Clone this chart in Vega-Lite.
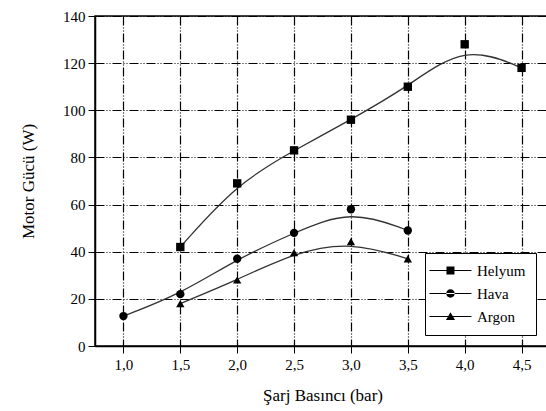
{
  "$schema": "https://vega.github.io/schema/vega-lite/v6.json",
  "width": 455,
  "height": 330,
  "autosize": "none",
  "padding": {"left": 95, "top": 16, "right": 0, "bottom": 65},
  "background": "white",
  "config": {
    "font": "Liberation Serif",
    "view": {"stroke": "black", "strokeWidth": 1.5},
    "axis": {
      "domainColor": "black",
      "domainWidth": 1.5,
      "tickColor": "black",
      "tickWidth": 1,
      "labelColor": "black",
      "labelFont": "Liberation Serif",
      "labelFontSize": 15,
      "labelOverlap": false,
      "labelFlush": false,
      "titleColor": "black",
      "titleFont": "Liberation Serif",
      "titleFontSize": 17,
      "titleFontWeight": "normal",
      "gridColor": "black",
      "gridWidth": 1.2
    }
  },
  "data": {
    "values": [
      {"seri": "Helyum", "basinc": 1.5, "guc": 42},
      {"seri": "Helyum", "basinc": 2.0, "guc": 69},
      {"seri": "Helyum", "basinc": 2.5, "guc": 83},
      {"seri": "Helyum", "basinc": 3.0, "guc": 96},
      {"seri": "Helyum", "basinc": 3.5, "guc": 110},
      {"seri": "Helyum", "basinc": 4.0, "guc": 128},
      {"seri": "Helyum", "basinc": 4.5, "guc": 118},
      {"seri": "Hava", "basinc": 1.0, "guc": 12.7},
      {"seri": "Hava", "basinc": 1.5, "guc": 22},
      {"seri": "Hava", "basinc": 2.0, "guc": 37},
      {"seri": "Hava", "basinc": 2.5, "guc": 48},
      {"seri": "Hava", "basinc": 3.0, "guc": 58},
      {"seri": "Hava", "basinc": 3.5, "guc": 49},
      {"seri": "Argon", "basinc": 1.5, "guc": 18},
      {"seri": "Argon", "basinc": 2.0, "guc": 28},
      {"seri": "Argon", "basinc": 2.5, "guc": 39.6},
      {"seri": "Argon", "basinc": 3.0, "guc": 44.3},
      {"seri": "Argon", "basinc": 3.5, "guc": 37}
    ]
  },
  "layer": [
    {
      "mark": {"type": "line", "interpolate": "basis", "color": "#333", "strokeWidth": 1.3},
      "encoding": {
        "x": {
          "field": "basinc",
          "type": "quantitative",
          "scale": {"domain": [0.75, 4.75], "nice": false, "zero": false},
          "axis": {
            "values": [1, 1.25, 1.5, 1.75, 2, 2.25, 2.5, 2.75, 3, 3.25, 3.5, 3.75, 4, 4.25, 4.5],
            "labelExpr": "(datum.value * 2) % 1 == 0 ? replace(format(datum.value, '.1f'), '.', ',') : ''",
            "tickSize": {"condition": {"test": "(datum.value * 2) % 1 != 0", "value": 4}, "value": 7},
            "gridOpacity": {"condition": {"test": "(datum.value * 2) % 1 != 0", "value": 0}, "value": 1},
            "gridDash": [9, 2, 1, 2, 1, 2],
            "grid": true,
            "labelPadding": 4,
            "title": "Şarj Basıncı (bar)",
            "titlePadding": 15
          }
        },
        "y": {
          "field": "guc",
          "type": "quantitative",
          "scale": {"domain": [0, 140], "nice": false},
          "axis": {
            "values": [0, 10, 20, 30, 40, 50, 60, 70, 80, 90, 100, 110, 120, 130, 140],
            "labelExpr": "datum.value % 20 == 0 ? format(datum.value, 'd') : ''",
            "tickSize": {"condition": {"test": "datum.value % 20 != 0", "value": 4}, "value": 7},
            "gridOpacity": {"condition": {"test": "datum.value % 20 != 0", "value": 0}, "value": 1},
            "gridDash": [9, 2, 1, 2, 1, 2],
            "grid": true,
            "labelPadding": 3,
            "title": "Motor Gücü (W)",
            "titlePadding": 25
          }
        },
        "detail": {"field": "seri", "type": "nominal"}
      }
    },
    {
      "mark": {"type": "point", "filled": true, "color": "black", "opacity": 1, "size": 70},
      "encoding": {
        "x": {"field": "basinc", "type": "quantitative"},
        "y": {"field": "guc", "type": "quantitative"},
        "shape": {
          "field": "seri",
          "type": "nominal",
          "scale": {"domain": ["Helyum", "Hava", "Argon"], "range": ["square", "circle", "triangle-up"]},
          "legend": null
        }
      }
    },
    {
      "transform": [{"filter": "false"}],
      "mark": {"type": "point", "filled": true, "color": "black", "opacity": 1},
      "encoding": {
        "shape": {
          "field": "seri",
          "type": "nominal",
          "scale": {
            "domain": ["Helyum", "Hava", "Argon"],
            "range": [
              "M-1.86,-0.08H4.14V0.08H-1.86Z M0.57,-0.57H1.71V0.57H0.57Z",
              "M-1.86,-0.08H4.14V0.08H-1.86Z M0.54,0A0.6,0.6 0 1,0 1.74,0A0.6,0.6 0 1,0 0.54,0Z",
              "M-1.86,-0.08H4.14V0.08H-1.86Z M0.49,0.5L1.14,-0.62L1.79,0.5Z"
            ]
          },
          "legend": {
            "title": null,
            "orient": "none",
            "legendX": 330,
            "legendY": 237,
            "padding": 10,
            "fillColor": "white",
            "strokeColor": "black",
            "cornerRadius": 0,
            "symbolSize": 196,
            "symbolFillColor": "black",
            "symbolStrokeColor": "black",
            "symbolStrokeWidth": 0,
            "symbolOpacity": 1,
            "labelFont": "Liberation Serif",
            "labelFontSize": 15,
            "labelColor": "black",
            "labelOffset": 27,
            "rowPadding": 7
          }
        }
      }
    }
  ],
  "resolve": {"scale": {"shape": "independent"}}
}
